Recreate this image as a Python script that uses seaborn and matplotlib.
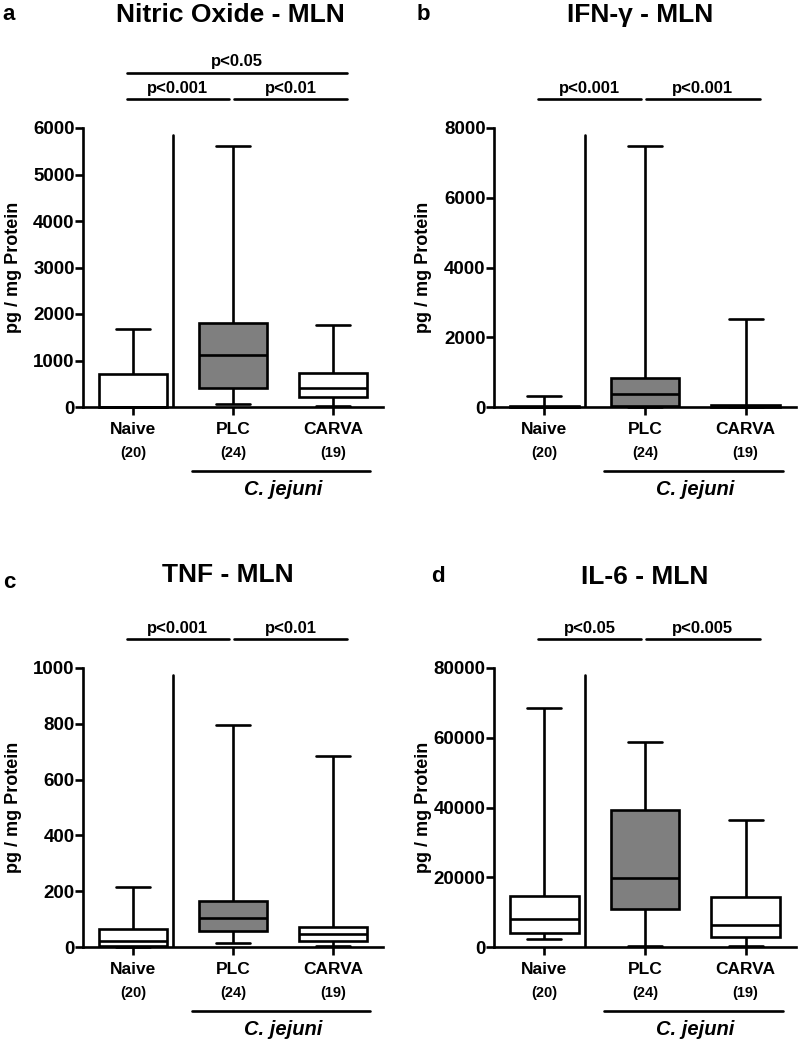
import numpy as np
import pandas as pd
import seaborn as sns
from matplotlib import pyplot as plt

# groups and sample sizes
groups = ["Naive", "PLC", "CARVA"]
counts = ["(20)", "(24)", "(19)"]

# five-number summaries (min, q1, median, q3, max)
no_naive = [0, 0, 0, 710, 1680]
no_plc = [65, 410, 1120, 1805, 5620]
no_carva = [30, 210, 400, 730, 1760]

ifn_naive = [0, 0, 10, 35, 315]
ifn_plc = [0, 20, 370, 830, 7480]
ifn_carva = [0, 5, 20, 60, 2530]

tnf_naive = [0, 5, 20, 65, 215]
tnf_plc = [15, 57, 104, 166, 797]
tnf_carva = [3, 20, 47, 71, 686]

il6_naive = [2400, 4000, 8000, 14700, 68500]
il6_plc = [300, 10900, 19700, 39400, 58900]
il6_carva = [400, 3000, 6300, 14200, 36300]

titles = ["Nitric Oxide - MLN", "IFN-\u03b3 - MLN", "TNF - MLN", "IL-6 - MLN"]
letters = ["a", "b", "c", "d"]
ymaxes = [6000, 8000, 1000, 80000]
ysteps = [1000, 2000, 200, 20000]
pvals = [["p<0.001", "p<0.01", "p<0.05"],
         ["p<0.001", "p<0.001"],
         ["p<0.001", "p<0.01"],
         ["p<0.05", "p<0.005"]]

panels = [
    [no_naive, no_plc, no_carva],
    [ifn_naive, ifn_plc, ifn_carva],
    [tnf_naive, tnf_plc, tnf_carva],
    [il6_naive, il6_plc, il6_carva],
]

sns.set_style("ticks")
plt.rcParams['font.family'] = ['Liberation Sans', 'DejaVu Sans']
plt.rcParams['font.weight'] = 'bold'
for key in ['text.color', 'axes.labelcolor', 'xtick.color', 'ytick.color',
            'axes.edgecolor']:
    plt.rcParams[key] = 'black'

W, H = 800, 1046
fig = plt.figure(figsize=(W / 100, H / 100), dpi=100)

# axes boxes in pixels: left, top, right, bottom
boxes = [(83, 128, 383, 407), (494, 128, 796, 407),
         (83, 668, 383, 947), (494, 668, 796, 947)]
title_pos = [(230, 15), (640, 15), (228, 575), (645, 577)]
letter_pos = [(9, 15), (423, 15), (9, 583), (438, 577)]

palette = {"Naive": "white", "PLC": "#7f7f7f", "CARVA": "white"}
lw = 1.9

for i, data in enumerate(panels):
    l, t, r, b = boxes[i]
    ax = fig.add_axes([l / W, 1 - b / H, (r - l) / W, (b - t) / H])

    rows = []
    for g, vals in zip(groups, data):
        for v in vals:
            rows.append({"group": g, "value": v})
    df = pd.DataFrame(rows)

    sns.boxplot(data=df, x="group", y="value", hue="group", order=groups,
                hue_order=groups, palette=palette, saturation=1, legend=False,
                whis=(0, 100), width=0.68, linecolor="black", linewidth=lw,
                ax=ax)

    ax.set_ylim(0, ymaxes[i])
    ax.set_xlim(-0.5, 2.5)
    yt = np.arange(0, ymaxes[i] + 1, ysteps[i])
    ax.set_yticks(yt)
    ax.set_yticklabels([str(int(v)) for v in yt], fontsize=13.5,
                       fontweight='bold')
    ax.set_xticks([0, 1, 2])
    ax.set_xticklabels(["", "", ""])
    ax.tick_params(width=lw, length=5.5, pad=0.5, color="black")
    for s in ["top", "right"]:
        ax.spines[s].set_visible(False)
    for s in ["left", "bottom"]:
        ax.spines[s].set_linewidth(lw)
        ax.spines[s].set_color("black")
    for art in ax.patches + ax.lines:
        art.set_clip_on(False)
    ax.set_xlabel("")
    ax.set_ylabel("pg / mg Protein", fontsize=13, fontweight='bold')
    ax.yaxis.set_label_coords(-0.205, 0.5)

    # separator between control and infected groups
    ax.axvline(0.4, ymin=0, ymax=0.975, color="black", lw=lw)

    tr = ax.get_xaxis_transform()
    # category labels
    for k, (g, n) in enumerate(zip(groups, counts)):
        ax.text(k, -0.079, g, transform=tr, ha="center", va="center",
                fontsize=12.5, fontweight='bold')
        ax.text(k, -0.165, n, transform=tr, ha="center", va="center",
                fontsize=10.5, fontweight='bold')
    # C. jejuni bracket
    ax.plot([0.59, 2.37], [-0.229, -0.229], transform=tr, color="black",
            lw=lw, clip_on=False)
    ax.text(1.5, -0.297, "C. jejuni", transform=tr, ha="center", va="center",
            fontsize=14.5, fontweight='bold', style='italic')

    # significance bars
    pv = pvals[i]
    segs = [(-0.06, 0.96), (1.01, 2.14)]
    for (x0, x1), txt in zip(segs, pv[:2]):
        ax.plot([x0, x1], [1.104, 1.104], transform=tr, color="black",
                lw=lw, clip_on=False)
        ax.text((x0 + x1) / 2, 1.143, txt, transform=tr, ha="center",
                va="center", fontsize=12, fontweight='bold')
    if len(pv) > 2:
        ax.plot([-0.06, 2.14], [1.197, 1.197], transform=tr, color="black",
                lw=lw, clip_on=False)
        ax.text(1.04, 1.237, pv[2], transform=tr, ha="center", va="center",
                fontsize=12, fontweight='bold')

    tx, ty = title_pos[i]
    fig.text(tx / W, 1 - ty / H, titles[i], ha="center", va="center",
             fontsize=19, fontweight='bold')
    lx, ly = letter_pos[i]
    fig.text(lx / W, 1 - ly / H, letters[i], ha="center", va="center",
             fontsize=16, fontweight='bold')

plt.savefig("out.png", dpi=100)
